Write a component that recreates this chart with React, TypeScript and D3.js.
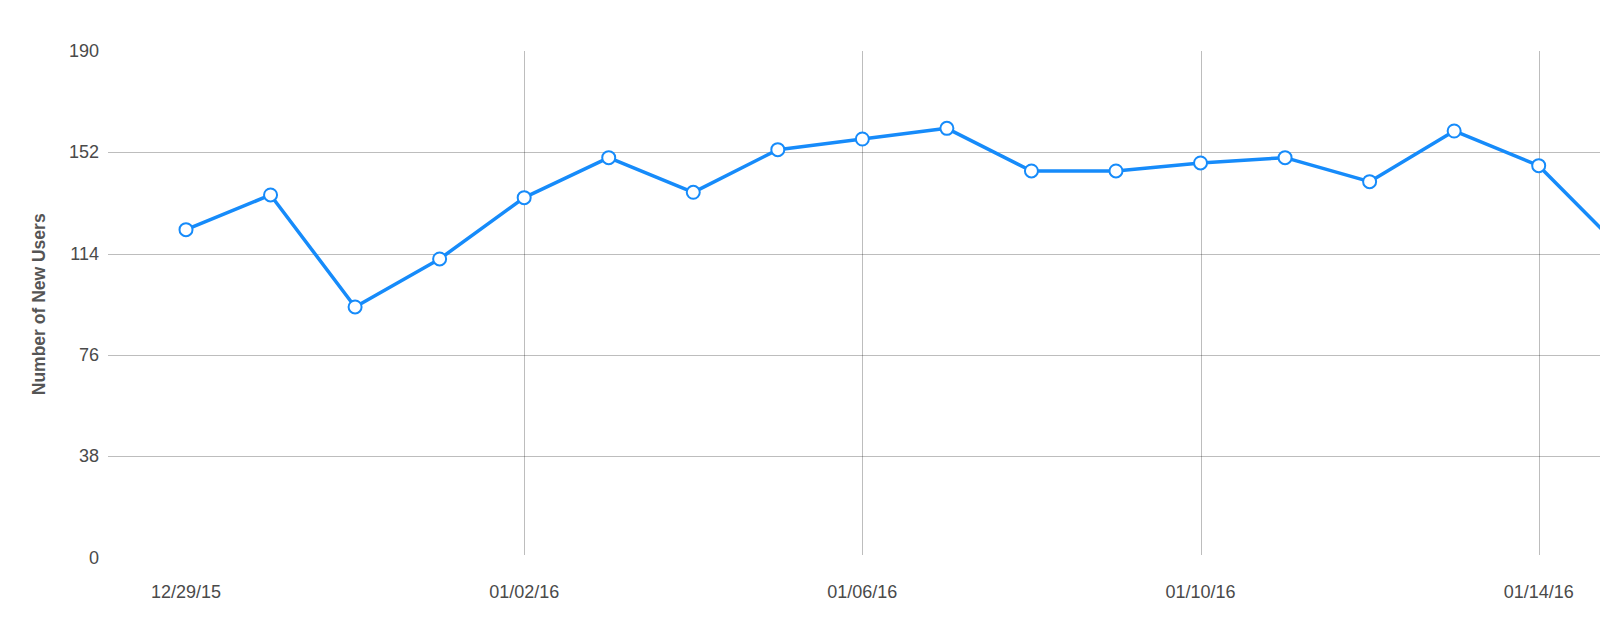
import React from "react";
import * as d3 from "d3";

const dates: string[] = [
  "2015-12-29", "2015-12-30", "2015-12-31", "2016-01-01", "2016-01-02", "2016-01-03",
  "2016-01-04", "2016-01-05", "2016-01-06", "2016-01-07", "2016-01-08", "2016-01-09",
  "2016-01-10", "2016-01-11", "2016-01-12", "2016-01-13", "2016-01-14", "2016-01-15",
];
const newUsers: number[] = [123, 136, 94, 112, 135, 150, 137, 153, 157, 161, 145, 145, 148, 150, 141, 160, 147, 115];
const yTicks: number[] = [0, 38, 76, 114, 152, 190];
const xTickDates: string[] = ["2015-12-29", "2016-01-02", "2016-01-06", "2016-01-10", "2016-01-14"];
const gridDates: string[] = ["2016-01-02", "2016-01-06", "2016-01-10", "2016-01-14"];
const yLabel = "Number of New Users";

const W = 1600;
const H = 628;
const FONT = "'Liberation Sans', Arial, Helvetica, sans-serif";
const BLUE = "#168bfa";

export default function App() {
  const parse = d3.timeParse("%Y-%m-%d");
  const fmt = d3.timeFormat("%m/%d/%y");
  const data = dates.map((d, i) => ({ date: parse(d) as Date, value: newUsers[i] }));

  const x = d3
    .scaleTime()
    .domain([parse("2015-12-29") as Date, parse("2016-01-14") as Date])
    .range([186, 1538.7]);
  const y = d3.scaleLinear().domain([0, 190]).range([557.6, 51]);

  const line = d3
    .line<{ date: Date; value: number }>()
    .x((d) => x(d.date))
    .y((d) => y(d.value));

  const plotLeft = 108;
  const gridColor = "rgba(0,0,0,0.26)";

  return (
    <svg
      width={W}
      height={H}
      style={{ position: "absolute", left: 0, top: 0, background: "#fff" }}
    >
      {yTicks
        .filter((t) => t !== 0 && t !== 190)
        .map((t) => (
          <line
            key={"h" + t}
            x1={plotLeft}
            x2={W}
            y1={Math.round(y(t)) + 0.5}
            y2={Math.round(y(t)) + 0.5}
            stroke={gridColor}
            strokeWidth={1}
          />
        ))}
      {gridDates.map((d) => {
        const xv = Math.round(x(parse(d) as Date)) + 0.5;
        return (
          <line
            key={"v" + d}
            x1={xv}
            x2={xv}
            y1={51}
            y2={555}
            stroke={gridColor}
            strokeWidth={1}
          />
        );
      })}
      {yTicks.map((t) => (
        <text
          key={"yl" + t}
          x={99}
          y={y(t)}
          textAnchor="end"
          dominantBaseline="central"
          fontFamily={FONT}
          fontSize={18}
          fill="#4a4a4a"
        >
          {t}
        </text>
      ))}
      {xTickDates.map((d) => (
        <text
          key={"xl" + d}
          x={x(parse(d) as Date)}
          y={598}
          textAnchor="middle"
          fontFamily={FONT}
          fontSize={18}
          fill="#4a4a4a"
        >
          {fmt(parse(d) as Date)}
        </text>
      ))}
      <text
        transform={`translate(45, ${(y(0) + y(190)) / 2}) rotate(-90)`}
        textAnchor="middle"
        fontFamily={FONT}
        fontSize={17.5}
        fontWeight="bold"
        fill="#555"
      >
        {yLabel}
      </text>
      <path d={line(data) || ""} fill="none" stroke={BLUE} strokeWidth={3.5} strokeLinejoin="round" />
      {data.map((d, i) => (
        <circle
          key={"c" + i}
          cx={x(d.date)}
          cy={y(d.value)}
          r={6.5}
          fill="#fff"
          stroke={BLUE}
          strokeWidth={2}
        />
      ))}
    </svg>
  );
}
